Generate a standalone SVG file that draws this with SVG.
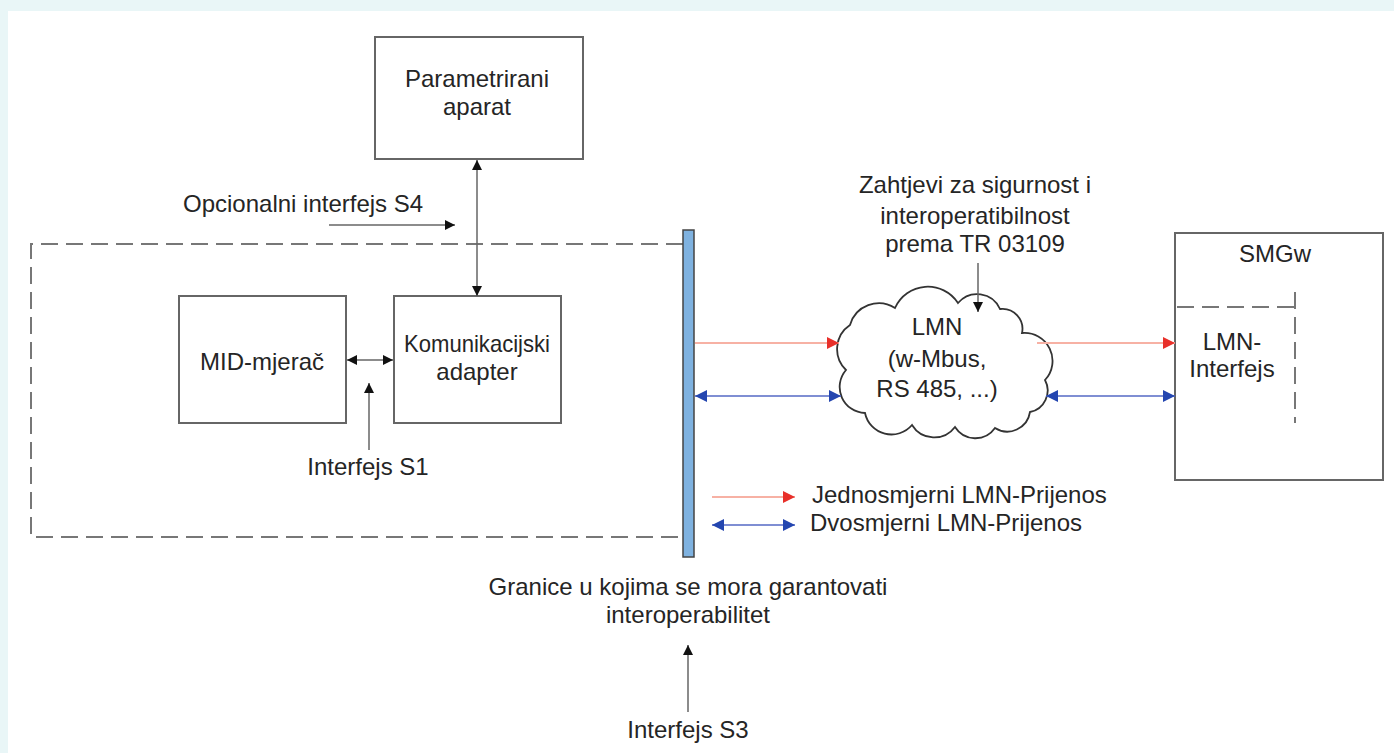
<svg xmlns="http://www.w3.org/2000/svg" width="1394" height="753" viewBox="0 0 1394 753">
<style>
  text { font-family: "Liberation Sans", Arial, sans-serif; font-size: 24px; fill: #252525; }
  .c { text-anchor: middle; }
  .box { fill: #fff; stroke: #666; stroke-width: 2; }
  .ln { fill: none; stroke: #666; stroke-width: 1.5; }
  .red { fill: none; stroke: #f7b1a4; stroke-width: 2; }
  .blue { fill: none; stroke: #5468c4; stroke-width: 1.5; }
  .dash { fill: none; stroke: #777; stroke-width: 2; stroke-dasharray: 17 8; }
</style>
<defs>
  <marker id="ab" viewBox="0 0 10 10" refX="10" refY="5" markerWidth="10" markerHeight="11" markerUnits="userSpaceOnUse" orient="auto-start-reverse">
    <path d="M0,0 L10,5 L0,10 z" fill="#111"/>
  </marker>
  <marker id="ar" viewBox="0 0 10 10" refX="10" refY="5" markerWidth="12" markerHeight="12" markerUnits="userSpaceOnUse" orient="auto-start-reverse">
    <path d="M0,0 L10,5 L0,10 z" fill="#e8302a"/>
  </marker>
  <marker id="au" viewBox="0 0 10 10" refX="10" refY="5" markerWidth="12" markerHeight="12" markerUnits="userSpaceOnUse" orient="auto-start-reverse">
    <path d="M0,0 L10,5 L0,10 z" fill="#2446b0"/>
  </marker>
</defs>
<rect x="0" y="0" width="1394" height="753" fill="#e9f6f7"/>
<rect x="8" y="11" width="1386" height="742" fill="#fff"/>

<g id="boundary">
  <path class="dash" d="M683,244 H31 V537 H683"/>
</g>

<g id="param">
  <rect class="box" x="375" y="37" width="208" height="122"/>
  <text class="c" x="477" y="87">Parametrirani</text>
  <text class="c" x="477" y="115">aparat</text>
</g>

<g id="mid">
  <rect class="box" x="179" y="296" width="167" height="127"/>
  <text class="c" x="262" y="370">MID-mjerač</text>
</g>

<g id="kom">
  <rect class="box" x="394" y="296" width="167" height="127"/>
  <text class="c" x="477" y="352" textLength="146" lengthAdjust="spacingAndGlyphs">Komunikacijski</text>
  <text class="c" x="477" y="380">adapter</text>
</g>

<g id="bar">
  <rect x="683" y="230" width="11" height="327" fill="#7fb2e0" stroke="#444" stroke-width="1.5"/>
</g>

<g id="cloud">
  <path d="M850,325 A30,30 0 0 1 895,308 A36,36 0 0 1 958,303 A25,25 0 0 1 1000,309 A20,20 0 0 1 1022,333 A28,28 0 0 1 1045,380 A22,22 0 0 1 1030,412 A23,23 0 0 1 995,428 A24,24 0 0 1 955,427 A26,26 0 0 1 912,425 A27,27 0 0 1 865,413 A26,26 0 0 1 846,370 A29,29 0 0 1 850,325 Z" fill="#fff" stroke="#333" stroke-width="1.8"/>
  <text class="c" x="937" y="335">LMN</text>
  <text class="c" x="937" y="367">(w-Mbus,</text>
  <text class="c" x="937" y="397">RS 485, ...)</text>
</g>

<g id="smgw">
  <rect class="box" x="1175" y="233" width="208" height="247"/>
  <text class="c" x="1275" y="262">SMGw</text>
  <path class="dash" d="M1177,307 H1295 M1295,292 V423" stroke-dasharray="13 7"/>
  <text class="c" x="1232" y="350">LMN-</text>
  <text class="c" x="1232" y="377">Interfejs</text>
</g>

<g id="labels">
  <text x="183" y="212">Opcionalni interfejs S4</text>
  <text class="c" x="368" y="475">Interfejs S1</text>
  <text class="c" x="975" y="193">Zahtjevi za sigurnost i</text>
  <text class="c" x="975" y="224">interoperatibilnost</text>
  <text class="c" x="975" y="252">prema TR 03109</text>
  <text class="c" x="688" y="595">Granice u kojima se mora garantovati</text>
  <text class="c" x="688" y="623">interoperabilitet</text>
  <text class="c" x="688" y="738">Interfejs S3</text>
  <text x="812" y="503">Jednosmjerni LMN-Prijenos</text>
  <text x="810" y="531">Dvosmjerni LMN-Prijenos</text>
</g>

<g id="connectors">
  <line class="ln" x1="477" y1="160" x2="477" y2="296" marker-start="url(#ab)" marker-end="url(#ab)"/>
  <line class="ln" x1="329" y1="225" x2="455" y2="225" marker-end="url(#ab)"/>
  <line class="ln" x1="347" y1="360" x2="393" y2="360" marker-start="url(#ab)" marker-end="url(#ab)"/>
  <line class="ln" x1="369" y1="450" x2="369" y2="383" marker-end="url(#ab)"/>
  <line class="ln" x1="978" y1="263" x2="978" y2="312" marker-end="url(#ab)"/>
  <line class="ln" x1="688" y1="712" x2="688" y2="645" marker-end="url(#ab)"/>
  <line class="red" x1="695" y1="343" x2="839" y2="343" marker-end="url(#ar)"/>
  <line class="blue" x1="695" y1="396" x2="841" y2="396" marker-start="url(#au)" marker-end="url(#au)"/>
  <line class="red" x1="1037" y1="343" x2="1175" y2="343" marker-end="url(#ar)"/>
  <line class="blue" x1="1046" y1="396" x2="1175" y2="396" marker-start="url(#au)" marker-end="url(#au)"/>
  <line class="red" x1="712" y1="497" x2="795" y2="497" marker-end="url(#ar)"/>
  <line class="blue" x1="712" y1="525" x2="795" y2="525" marker-start="url(#au)" marker-end="url(#au)"/>
</g>
</svg>
